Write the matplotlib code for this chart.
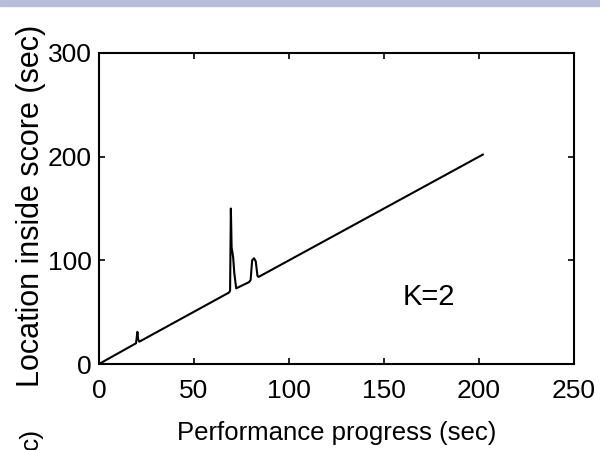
import matplotlib
matplotlib.use("Agg")
from matplotlib import pyplot as plt
from matplotlib.patches import Rectangle

plt.rcParams["font.family"] = ["Liberation Sans", "DejaVu Sans"]

# performance progress (sec) vs location inside score (sec), K=2
progress = [0, 19.5, 20.2, 20.6, 21.2, 68.5, 69.0, 69.4, 69.8, 70.2, 70.6, 71.2, 72.2,
            79.0, 79.8, 80.6, 81.6, 82.5, 83.4, 84.0, 202]
location = [0, 20, 31, 24, 21.5, 69, 71, 150, 112, 108, 103, 88, 73,
            79, 81, 100, 102, 99, 85, 84, 202]

xticks = [0, 50, 100, 150, 200, 250]
yticks = [0, 100, 200, 300]

fig = plt.figure(figsize=(6, 4.5), dpi=100)
fig.patches.append(Rectangle((0, 1 - 6 / 450), 1, 6 / 450, transform=fig.transFigure,
                             color="#b9bdd9", zorder=0))
ax = fig.add_axes([99 / 600, 1 - 364 / 450, 475 / 600, 311 / 450])

ax.plot(progress, location, color="black", lw=1.5)
ax.set_xlim(0, 250)
ax.set_ylim(0, 300)
ax.set_xticks(xticks)
ax.set_yticks(yticks)
ax.tick_params(direction="in", length=4.5, width=1.2, top=True, right=True, labelsize=19)
ax.tick_params(axis="x", pad=11)
ax.tick_params(axis="y", pad=5)
for s in ax.spines.values():
    s.set_linewidth(1.5)

ax.set_xlabel("Performance progress (sec)", fontsize=18.5, va="center")
ax.xaxis.set_label_coords(0.5, (364 - 433) / 311)
ax.set_ylabel("Location inside score (sec)", fontsize=22, va="center")
ax.yaxis.set_label_coords((31 - 99) / 475, (364 - 206) / 311)
ax.text(160, 65, "K=2", fontsize=21, va="center", ha="left")
fig.text(31 / 600, 1 - 439 / 450, "c)", rotation=90, fontsize=19, ha="center", va="center")

fig.savefig("out.png")
